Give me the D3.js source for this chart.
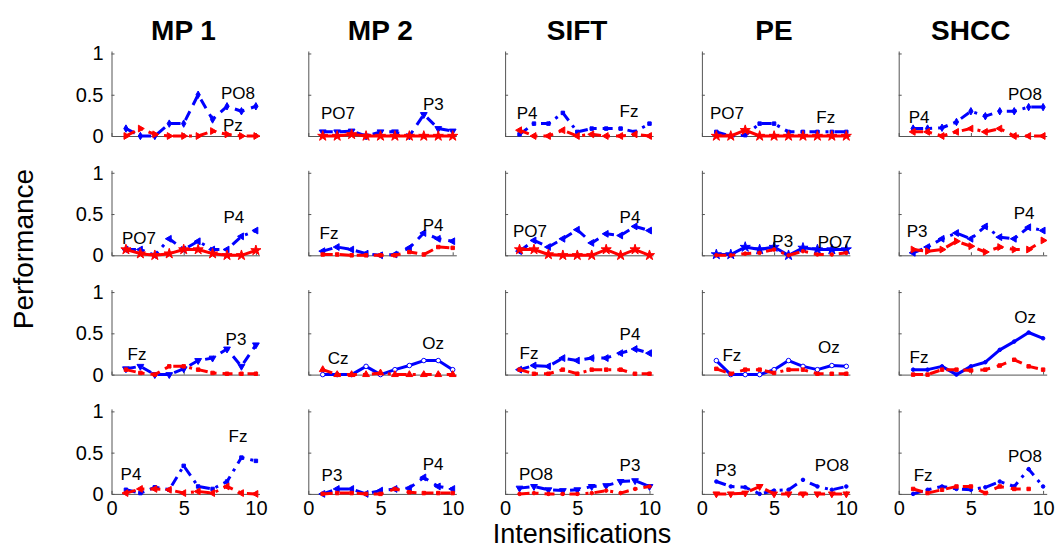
<!DOCTYPE html>
<html><head><meta charset="utf-8">
<script src="https://cdn.jsdelivr.net/npm/d3@7/dist/d3.min.js"></script>
<style>body{margin:0;background:#fff} text{font-family:"Liberation Sans",Arial,Helvetica,sans-serif}</style>
</head><body><svg id="c" width="1059" height="550"></svg>
<script>
const methods = ["MP 1","MP 2","SIFT","PE","SHCC"];
const intensifications = [1,2,3,4,5,6,7,8,9,10];
const xTicks = [0,5,10];
const yTicks = [0,0.5,1];
const yTickLabels = ["0","0.5","1"];
const xLabel = "Intensifications";
const yLabel = "Performance";

// blue series: one array per method, per row
const blueRow1 = [
 [0.09,0.0,0.0,0.15,0.15,0.5,0.2,0.36,0.3,0.36],
 [0.05,0.05,0.06,0.0,0.05,0.05,0.0,0.26,0.09,0.06],
 [0.02,0.15,0.15,0.28,0.05,0.09,0.09,0.09,0.05,0.15],
 [0.05,0.0,0.01,0.15,0.15,0.05,0.05,0.05,0.05,0.05],
 [0.09,0.09,0.1,0.17,0.3,0.24,0.3,0.3,0.35,0.35]];
const redRow1 = [
 [0,0.09,0.02,0,0,0,0.06,0.02,0,0],
 [0,0,0.02,0,0,0,0,0,0,0],
 [0.07,0,0,0.07,0,0.02,0,0,0.02,0],
 [0,0,0.07,0,0,0,0,0,0,0],
 [0.05,0.05,0,0.05,0.09,0.05,0.09,0,0,0]];
const blueRow2 = [
 [0.07,0.07,0,0.2,0.07,0.17,0.07,0.07,0.23,0.3],
 [0.05,0.1,0.07,0.02,0,0.01,0.09,0.27,0.2,0.17],
 [0.05,0.18,0.1,0.2,0.31,0.15,0.26,0.24,0.35,0.3],
 [0.01,0.01,0.1,0.07,0.1,0,0.09,0.07,0.07,0.07],
 [0.03,0.1,0.2,0.27,0.2,0.35,0.22,0.2,0.34,0.3]];
const redRow2 = [
 [0.07,0.02,0,0.02,0.07,0.07,0.02,0,0,0.06],
 [0.01,0.01,0,0,0,0,0.04,0.01,0.1,0.09],
 [0.07,0.07,0.01,0,0,0,0.07,0,0.07,0],
 [0,0,0.02,0.03,0.07,0,0.05,0.01,0.01,0.03],
 [0.07,0.05,0.07,0.17,0.11,0.04,0.1,0.07,0.07,0.18]];
const blueRow3 = [
 [0.07,0.1,0,0,0.07,0.17,0.2,0.31,0.1,0.36],
 [0,0,0,0.1,0,0.06,0.11,0.17,0.17,0.06],
 [0.06,0.11,0.1,0.2,0.17,0.2,0.2,0.26,0.31,0.26],
 [0.17,0,0,0,0.06,0.17,0.1,0.06,0.11,0.1],
 [0.06,0.06,0.1,0,0.1,0.15,0.3,0.4,0.51,0.44]];
const redRow3 = [
 [0.06,0.02,0,0.1,0.1,0.06,0.02,0.01,0.01,0.01],
 [0.06,0,0,0,0.02,0,0,0,0,0],
 [0.06,0.01,0.01,0.06,0.01,0.06,0.06,0.06,0.01,0.01],
 [0.07,0.01,0.06,0.06,0.02,0.06,0.06,0.01,0.01,0.01],
 [0,0,0.06,0.06,0.05,0.06,0.11,0.18,0.1,0.06]];
const blueRow4 = [
 [0.05,0.01,0.08,0.05,0.34,0.09,0.06,0.15,0.44,0.4],
 [0,0.06,0.06,0,0.04,0.06,0.07,0.2,0.09,0.06],
 [0.07,0.09,0.05,0.04,0.05,0.09,0.1,0.15,0.16,0.09],
 [0.15,0.09,0.08,0,0.04,0.05,0.17,0.09,0.05,0.09],
 [0,0.05,0.09,0.06,0.05,0.08,0.15,0.09,0.3,0.09]];
const redRow4 = [
 [0.01,0.06,0.06,0.05,0.01,0.03,0.01,0.09,0.01,0],
 [0,0.01,0.01,0,0,0.06,0.02,0.01,0.01,0.01],
 [0,0.01,0,0,0,0.01,0.04,0.01,0.06,0.09],
 [0,0,0.01,0.09,0,0,0,0,0,0],
 [0.06,0.01,0.05,0.09,0.09,0.01,0.09,0.06,0.06,null]];

// channel annotations: [name, x, y] in data units
const labelsRow1 = [
 [["PO8",8.76,0.52],["Pz",8.41,0.13]],
 [["PO7",2.06,0.27],["P3",8.66,0.38]],
 [["P4",1.52,0.27],["Fz",8.58,0.30]],
 [["PO7",1.74,0.27],["Fz",8.58,0.23]],
 [["P4",1.41,0.23],["PO8",8.75,0.50]]];
const labelsRow2 = [
 [["PO7",1.9,0.2],["P4",8.48,0.46]],
 [["Fz",1.43,0.27],["P4",8.64,0.36]],
 [["PO7",1.72,0.29],["P4",8.65,0.46]],
 [["P3",5.6,0.17],["PO7",9.2,0.16]],
 [["P3",1.27,0.29],["P4",8.68,0.51]]];
const labelsRow3 = [
 [["Fz",1.77,0.24],["P3",8.62,0.43]],
 [["Cz",2.06,0.19],["Oz",8.64,0.38]],
 [["Fz",1.66,0.26],["P4",8.65,0.48]],
 [["Fz",2.08,0.23],["Oz",8.8,0.33]],
 [["Fz",1.41,0.21],["Oz",8.75,0.69]]];
const labelsRow4 = [
 [["P4",1.35,0.23],["Fz",8.76,0.7]],
 [["P3",1.64,0.22],["P4",8.64,0.36]],
 [["PO8",2.14,0.24],["P3",8.65,0.34]],
 [["P3",1.67,0.28],["PO8",9.0,0.34]],
 [["Fz",1.69,0.22],["PO8",8.75,0.45]]];

// styles
const blueDash = [["dash","dash","dashdot","dashdot","dashdot"],["dashdot","dash","dash","solid","dashdot"],["dash","solid","dash","solid","solid"],["dashdot","dash","dash","dashdot","dashdot"]];
const blueMark = [["diamond","tridown","square","square","diamond"],["trileft","trileft","trileft","star","trileft"],["tridown","circle","trileft","circle","dot"],["square","trileft","tridown","dot","dot"]];
const redDash = [["dashdot","solid","dashdot","solid","dashdot"],["solid","dash","solid","dashdot","dash"],["dashdot","dashdot","dashdot","dashdot","dash"],["dashdot","dash","dashdot","dash","dash"]];
const redMark = [["triright","star","trileft","star","trileft"],["star","square","star","dot","triright"],["square","triup","square","square","square"],["trileft","square","dot","tridown","square"]];

const rows = [
 {blue: blueRow1, red: redRow1, labels: labelsRow1},
 {blue: blueRow2, red: redRow2, labels: labelsRow2},
 {blue: blueRow3, red: redRow3, labels: labelsRow3},
 {blue: blueRow4, red: redRow4, labels: labelsRow4}];

const dashes = {dash:"10,7", dashdot:"10,6,3,6", solid:null};
const BLUE = "#0000ff", RED = "#ff0000", AX = "#555";
const colLeft = i => 111.5 + 196.8*i;
const rowBottom = j => 136 + 119.3*j;
const W = 148, H = 85;

const svg = d3.select("#c");

function marker(g, type, color, px, py) {
  let sym, size = 20, rot = 0, fill = color, stroke = color;
  switch(type){
    case "triright": sym = d3.symbolTriangle; rot = 90; break;
    case "trileft": sym = d3.symbolTriangle; rot = -90; break;
    case "tridown": sym = d3.symbolTriangle; rot = 180; break;
    case "triup": sym = d3.symbolTriangle; break;
    case "star": sym = d3.symbolStar; size = 32; break;
    case "square": sym = d3.symbolSquare; size = 12; break;
    case "diamond": sym = d3.symbolDiamond; size = 16; break;
    case "circle": sym = d3.symbolCircle; size = 16; fill = "#fff"; break;
    case "dot": sym = d3.symbolCircle; size = 10; break;
  }
  g.append("path").attr("d", d3.symbol(sym, size)())
   .attr("transform", `translate(${px},${py}) rotate(${rot})`)
   .attr("fill", fill).attr("stroke", stroke).attr("stroke-width", 1);
}

rows.forEach((row, j) => {
  methods.forEach((m, i) => {
    const x = d3.scaleLinear().domain([0, 10.25]).range([colLeft(i), colLeft(i) + W]);
    const y = d3.scaleLinear().domain([0, 1.03]).range([rowBottom(j), rowBottom(j) - H]);
    const g = svg.append("g");

    const ya = d3.axisLeft(y).tickValues(yTicks).tickSizeInner(-3).tickSizeOuter(0).tickPadding(8)
      .tickFormat((d, k) => i === 0 ? yTickLabels[k] : "");
    const gy = g.append("g").attr("transform", `translate(${colLeft(i)},0)`).call(ya);
    const xa = d3.axisBottom(x).tickValues(xTicks).tickSizeInner(-3).tickSizeOuter(0).tickPadding(7)
      .tickFormat(d => j === 3 ? d : "");
    const gx = g.append("g").attr("transform", `translate(0,${rowBottom(j)})`).call(xa);
    [gx, gy].forEach(a => {
      a.select(".domain").attr("stroke", AX);
      a.selectAll(".tick line").attr("stroke", AX);
      a.selectAll(".tick text").attr("font-size", 20).attr("fill", "#000")
        .attr("font-family", '"Liberation Sans",Arial,sans-serif');
    });

    const series = [
      {vals: row.blue[i], color: BLUE, dash: blueDash[j][i], mk: blueMark[j][i]},
      {vals: row.red[i], color: RED, dash: redDash[j][i], mk: redMark[j][i]}];
    series.forEach(s => {
      const pts = intensifications.map((t, k) => [t, s.vals[k]]);
      const line = d3.line().defined(d => d[1] !== null).x(d => x(d[0])).y(d => y(d[1]));
      g.append("path").attr("d", line(pts)).attr("fill", "none")
        .attr("stroke", s.color).attr("stroke-width", 3)
        .attr("stroke-dasharray", dashes[s.dash])
        .attr("stroke-linejoin", "round");
      pts.filter(d => d[1] !== null).forEach(d => marker(g, s.mk, s.color, x(d[0]), y(d[1])));
    });

    row.labels[i].forEach(([name, lx, ly]) => {
      g.append("text").attr("x", x(lx)).attr("y", y(ly)).attr("text-anchor", "middle")
        .attr("dominant-baseline", "central").attr("font-size", 17).text(name);
    });

    if (j === 0) {
      svg.append("text").attr("x", colLeft(i) + 72).attr("y", 40).attr("text-anchor", "middle")
        .attr("font-size", 28).attr("font-weight", "bold").text(m);
    }
  });
});

svg.append("text").attr("x", 582).attr("y", 543).attr("text-anchor", "middle")
  .attr("font-size", 27).text(xLabel);
svg.append("text").attr("transform", "translate(33,249) rotate(-90)").attr("text-anchor", "middle")
  .attr("font-size", 28).text(yLabel);
</script></body></html>
